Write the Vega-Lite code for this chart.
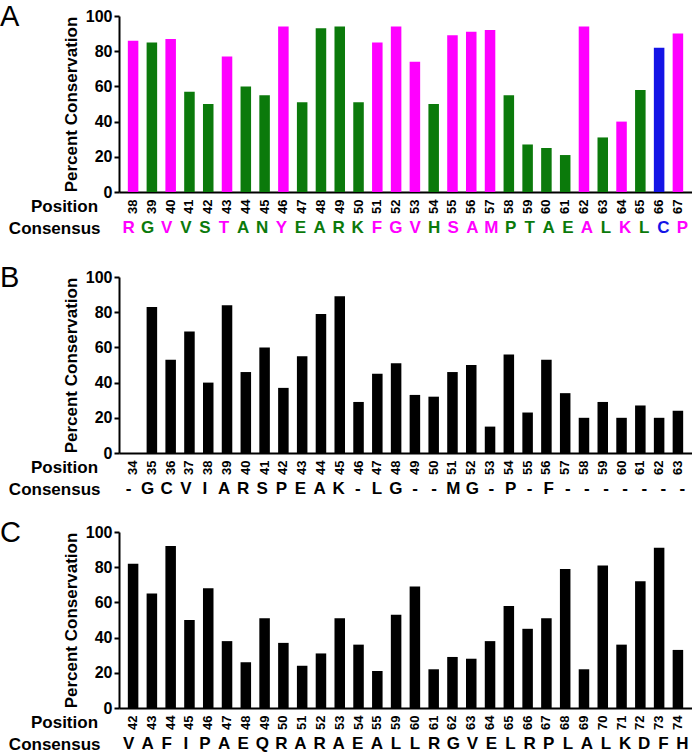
{
  "$schema": "https://vega.github.io/schema/vega-lite/v6.json",
  "padding": {"left": 0, "top": 3, "right": 0, "bottom": 0},
  "background": "white",
  "config": {
    "font": "Liberation Sans",
    "view": {"stroke": null},
    "axis": {"grid": false, "domainColor": "black", "tickColor": "black", "labelColor": "black", "titleColor": "black"}
  },
  "datasets": {
    "a": [
      {"pos": 38, "pct": 86, "res": "R", "cls": "m"},
      {"pos": 39, "pct": 85, "res": "G", "cls": "g"},
      {"pos": 40, "pct": 87, "res": "V", "cls": "m"},
      {"pos": 41, "pct": 57, "res": "V", "cls": "g"},
      {"pos": 42, "pct": 50, "res": "S", "cls": "g"},
      {"pos": 43, "pct": 77, "res": "T", "cls": "m"},
      {"pos": 44, "pct": 60, "res": "A", "cls": "g"},
      {"pos": 45, "pct": 55, "res": "N", "cls": "g"},
      {"pos": 46, "pct": 94, "res": "Y", "cls": "m"},
      {"pos": 47, "pct": 51, "res": "E", "cls": "g"},
      {"pos": 48, "pct": 93, "res": "A", "cls": "g"},
      {"pos": 49, "pct": 94, "res": "R", "cls": "g"},
      {"pos": 50, "pct": 51, "res": "K", "cls": "g"},
      {"pos": 51, "pct": 85, "res": "F", "cls": "m"},
      {"pos": 52, "pct": 94, "res": "G", "cls": "m"},
      {"pos": 53, "pct": 74, "res": "V", "cls": "m"},
      {"pos": 54, "pct": 50, "res": "H", "cls": "g"},
      {"pos": 55, "pct": 89, "res": "S", "cls": "m"},
      {"pos": 56, "pct": 91, "res": "A", "cls": "m"},
      {"pos": 57, "pct": 92, "res": "M", "cls": "m"},
      {"pos": 58, "pct": 55, "res": "P", "cls": "g"},
      {"pos": 59, "pct": 27, "res": "T", "cls": "g"},
      {"pos": 60, "pct": 25, "res": "A", "cls": "g"},
      {"pos": 61, "pct": 21, "res": "E", "cls": "g"},
      {"pos": 62, "pct": 94, "res": "A", "cls": "m"},
      {"pos": 63, "pct": 31, "res": "L", "cls": "g"},
      {"pos": 64, "pct": 40, "res": "K", "cls": "m"},
      {"pos": 65, "pct": 58, "res": "L", "cls": "g"},
      {"pos": 66, "pct": 82, "res": "C", "cls": "b"},
      {"pos": 67, "pct": 90, "res": "P", "cls": "m"}
    ],
    "b": [
      {"pos": 34, "pct": 0, "res": "-"},
      {"pos": 35, "pct": 83, "res": "G"},
      {"pos": 36, "pct": 53, "res": "C"},
      {"pos": 37, "pct": 69, "res": "V"},
      {"pos": 38, "pct": 40, "res": "I"},
      {"pos": 39, "pct": 84, "res": "A"},
      {"pos": 40, "pct": 46, "res": "R"},
      {"pos": 41, "pct": 60, "res": "S"},
      {"pos": 42, "pct": 37, "res": "P"},
      {"pos": 43, "pct": 55, "res": "E"},
      {"pos": 44, "pct": 79, "res": "A"},
      {"pos": 45, "pct": 89, "res": "K"},
      {"pos": 46, "pct": 29, "res": "-"},
      {"pos": 47, "pct": 45, "res": "L"},
      {"pos": 48, "pct": 51, "res": "G"},
      {"pos": 49, "pct": 33, "res": "-"},
      {"pos": 50, "pct": 32, "res": "-"},
      {"pos": 51, "pct": 46, "res": "M"},
      {"pos": 52, "pct": 50, "res": "G"},
      {"pos": 53, "pct": 15, "res": "-"},
      {"pos": 54, "pct": 56, "res": "P"},
      {"pos": 55, "pct": 23, "res": "-"},
      {"pos": 56, "pct": 53, "res": "F"},
      {"pos": 57, "pct": 34, "res": "-"},
      {"pos": 58, "pct": 20, "res": "-"},
      {"pos": 59, "pct": 29, "res": "-"},
      {"pos": 60, "pct": 20, "res": "-"},
      {"pos": 61, "pct": 27, "res": "-"},
      {"pos": 62, "pct": 20, "res": "-"},
      {"pos": 63, "pct": 24, "res": "-"}
    ],
    "c": [
      {"pos": 42, "pct": 82, "res": "V"},
      {"pos": 43, "pct": 65, "res": "A"},
      {"pos": 44, "pct": 92, "res": "F"},
      {"pos": 45, "pct": 50, "res": "I"},
      {"pos": 46, "pct": 68, "res": "P"},
      {"pos": 47, "pct": 38, "res": "A"},
      {"pos": 48, "pct": 26, "res": "E"},
      {"pos": 49, "pct": 51, "res": "Q"},
      {"pos": 50, "pct": 37, "res": "R"},
      {"pos": 51, "pct": 24, "res": "A"},
      {"pos": 52, "pct": 31, "res": "R"},
      {"pos": 53, "pct": 51, "res": "A"},
      {"pos": 54, "pct": 36, "res": "E"},
      {"pos": 55, "pct": 21, "res": "A"},
      {"pos": 59, "pct": 53, "res": "L"},
      {"pos": 60, "pct": 69, "res": "L"},
      {"pos": 61, "pct": 22, "res": "R"},
      {"pos": 62, "pct": 29, "res": "G"},
      {"pos": 63, "pct": 28, "res": "V"},
      {"pos": 64, "pct": 38, "res": "E"},
      {"pos": 65, "pct": 58, "res": "L"},
      {"pos": 66, "pct": 45, "res": "R"},
      {"pos": 67, "pct": 51, "res": "P"},
      {"pos": 68, "pct": 79, "res": "L"},
      {"pos": 69, "pct": 22, "res": "A"},
      {"pos": 70, "pct": 81, "res": "L"},
      {"pos": 71, "pct": 36, "res": "K"},
      {"pos": 72, "pct": 72, "res": "D"},
      {"pos": 73, "pct": 91, "res": "F"},
      {"pos": 74, "pct": 33, "res": "H"}
    ]
  },
  "spacing": 27,
  "vconcat": [
    {
      "spacing": 5,
      "vconcat": [
        {
          "data": {"name": "a"},
          "width": 573, "height": 176,
          "title": {"text": "A", "anchor": "start", "frame": "group", "dx": -119, "offset": -24, "fontSize": 29, "fontWeight": "normal", "color": "black"},
          "mark": {"type": "bar"},
          "encoding": {
            "x": {"field": "pos", "type": "ordinal", "scale": {"paddingInner": 0.44, "paddingOuter": 0.47},
              "axis": {"title": "Position", "titleAngle": 0, "titleX": -55, "titleY": 14, "titleAlign": "center", "titleBaseline": "middle", "titleFontSize": 17, "titleFontWeight": "bold", "labelAngle": -90, "labelFontSize": 13, "labelFontWeight": "bold", "labelPadding": 7, "ticks": false, "domainWidth": 2}},
            "y": {"field": "pct", "type": "quantitative", "scale": {"domain": [0, 100]},
              "axis": {"title": "Percent Conservation", "titleFontSize": 17, "titleFontWeight": "bold", "titlePadding": 5, "values": [0, 20, 40, 60, 80, 100], "labelFontSize": 16, "labelFontWeight": "bold", "labelPadding": 2, "tickSize": 5, "tickWidth": 2, "domainWidth": 2}},
            "color": {"field": "cls", "type": "nominal", "scale": {"domain": ["m", "g", "b"], "range": ["#ff00ff", "#0b7a0b", "#1414e6"]}, "legend": null}
          }
        },
        {
          "data": {"name": "a"},
          "width": 573, "height": 18,
          "mark": {"type": "text", "fontSize": 17, "fontWeight": "bold", "baseline": "middle"},
          "encoding": {
            "x": {"field": "pos", "type": "ordinal", "scale": {"paddingInner": 0.44, "paddingOuter": 0.47}, "axis": null},
            "y": {"datum": "Consensus", "type": "nominal", "axis": {"title": null, "labelFontSize": 17, "labelFontWeight": "bold", "ticks": false, "domain": false, "labelPadding": 19}},
            "text": {"field": "res", "type": "nominal"},
            "color": {"field": "cls", "type": "nominal", "scale": {"domain": ["m", "g", "b"], "range": ["#ff00ff", "#0b7a0b", "#1414e6"]}, "legend": null}
          }
        }
      ]
    },
    {
      "spacing": 21,
      "vconcat": [
        {
          "spacing": 5,
          "vconcat": [
            {
              "data": {"name": "b"},
              "width": 573, "height": 176,
              "title": {"text": "B", "anchor": "start", "frame": "group", "dx": -119, "offset": -24, "fontSize": 29, "fontWeight": "normal", "color": "black"},
              "mark": {"type": "bar", "color": "black"},
              "encoding": {
                "x": {"field": "pos", "type": "ordinal", "scale": {"paddingInner": 0.44, "paddingOuter": 0.47},
                  "axis": {"title": "Position", "titleAngle": 0, "titleX": -55, "titleY": 14, "titleAlign": "center", "titleBaseline": "middle", "titleFontSize": 17, "titleFontWeight": "bold", "labelAngle": -90, "labelFontSize": 13, "labelFontWeight": "bold", "labelPadding": 7, "ticks": false, "domainWidth": 2}},
                "y": {"field": "pct", "type": "quantitative", "scale": {"domain": [0, 100]},
                  "axis": {"title": "Percent Conservation", "titleFontSize": 17, "titleFontWeight": "bold", "titlePadding": 5, "values": [0, 20, 40, 60, 80, 100], "labelFontSize": 16, "labelFontWeight": "bold", "labelPadding": 2, "tickSize": 5, "tickWidth": 2, "domainWidth": 2}}
              }
            },
            {
              "data": {"name": "b"},
              "width": 573, "height": 18,
              "mark": {"type": "text", "fontSize": 17, "fontWeight": "bold", "baseline": "middle", "color": "black"},
              "encoding": {
                "x": {"field": "pos", "type": "ordinal", "scale": {"paddingInner": 0.44, "paddingOuter": 0.47}, "axis": null},
                "y": {"datum": "Consensus", "type": "nominal", "axis": {"title": null, "labelFontSize": 17, "labelFontWeight": "bold", "ticks": false, "domain": false, "labelPadding": 19}},
                "text": {"field": "res", "type": "nominal"}
              }
            }
          ]
        },
        {
          "spacing": 5,
          "vconcat": [
            {
              "data": {"name": "c"},
              "width": 573, "height": 176,
              "title": {"text": "C", "anchor": "start", "frame": "group", "dx": -119, "offset": -24, "fontSize": 29, "fontWeight": "normal", "color": "black"},
              "mark": {"type": "bar", "color": "black"},
              "encoding": {
                "x": {"field": "pos", "type": "ordinal", "scale": {"paddingInner": 0.44, "paddingOuter": 0.47},
                  "axis": {"title": "Position", "titleAngle": 0, "titleX": -55, "titleY": 14, "titleAlign": "center", "titleBaseline": "middle", "titleFontSize": 17, "titleFontWeight": "bold", "labelAngle": -90, "labelFontSize": 13, "labelFontWeight": "bold", "labelPadding": 7, "ticks": false, "domainWidth": 2}},
                "y": {"field": "pct", "type": "quantitative", "scale": {"domain": [0, 100]},
                  "axis": {"title": "Percent Conservation", "titleFontSize": 17, "titleFontWeight": "bold", "titlePadding": 5, "values": [0, 20, 40, 60, 80, 100], "labelFontSize": 16, "labelFontWeight": "bold", "labelPadding": 2, "tickSize": 5, "tickWidth": 2, "domainWidth": 2}}
              }
            },
            {
              "data": {"name": "c"},
              "width": 573, "height": 18,
              "mark": {"type": "text", "fontSize": 17, "fontWeight": "bold", "baseline": "middle", "color": "black"},
              "encoding": {
                "x": {"field": "pos", "type": "ordinal", "scale": {"paddingInner": 0.44, "paddingOuter": 0.47}, "axis": null},
                "y": {"datum": "Consensus", "type": "nominal", "axis": {"title": null, "labelFontSize": 17, "labelFontWeight": "bold", "ticks": false, "domain": false, "labelPadding": 19}},
                "text": {"field": "res", "type": "nominal"}
              }
            }
          ]
        }
      ]
    }
  ]
}
